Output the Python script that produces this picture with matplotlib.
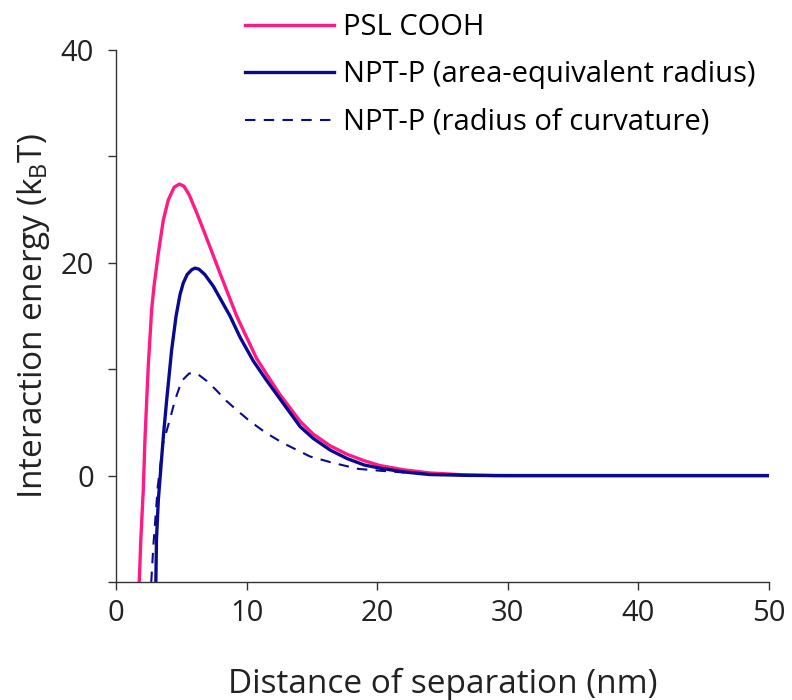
import matplotlib
matplotlib.use("Agg")
import matplotlib.pyplot as plt

# --- data --------------------------------------------------------------
psl_x = [1.78, 1.9, 2.09, 2.22, 2.47, 2.73, 2.91, 3.24, 3.62, 4.0, 4.45,
         4.85, 5.2, 5.6, 6.18, 7.07, 8.0, 9.24, 10.0, 10.77, 11.6, 12.56,
         14.1, 15.1, 16.4, 17.7, 19.0, 20.2, 22.0, 24.0, 26.5, 29.0, 35.0,
         40.0, 50.0]
psl_y = [-10.0, -6.0, -1.3, 3.5, 10.3, 15.6, 17.8, 20.9, 24.0, 25.9, 27.1,
         27.4, 27.2, 26.4, 24.7, 21.9, 18.9, 15.0, 13.0, 11.0, 9.4, 7.6,
         5.1, 3.9, 2.8, 2.0, 1.4, 0.95, 0.55, 0.25, 0.08, 0.0, 0.0,
         0.0, 0.0]

npt_area_x = [3.05, 3.1, 3.24, 3.62, 3.88, 4.26, 4.6, 4.9, 5.15, 5.45, 5.8,
              6.05, 6.35, 6.8, 7.45, 8.73, 9.5, 10.5, 11.5, 12.56, 14.1,
              15.1, 16.4, 17.7, 19.0, 20.2, 22.0, 24.0, 27.0, 30.0, 40.0,
              50.0]
npt_area_y = [-10.0, -6.0, -2.3, 3.6, 7.1, 11.8, 15.0, 17.0, 18.1, 18.9, 19.35,
              19.5, 19.4, 18.9, 17.8, 15.0, 13.0, 10.8, 9.0, 7.2, 4.6,
              3.5, 2.4, 1.6, 1.0, 0.7, 0.35, 0.1, 0.02, 0.0, 0.0,
              0.0]

npt_curv_x = [2.7, 2.86, 3.2, 3.6, 4.13, 4.52, 5.03, 5.6, 6.2, 6.94, 7.7,
              8.47, 9.4, 10.26, 11.5, 12.8, 14.85, 16.6, 18.55, 20.4, 22.0,
              25.0, 30.0, 40.0, 50.0]
npt_curv_y = [-10.0, -6.6, -1.0, 3.0, 5.3, 7.1, 8.9, 9.6, 9.6, 8.9, 8.0,
              7.0, 6.0, 5.1, 4.0, 3.05, 1.8, 1.2, 0.63, 0.44, 0.3,
              0.1, 0.0, 0.0, 0.0]

labels = ["PSL COOH", "NPT-P (area-equivalent radius)",
          "NPT-P (radius of curvature)"]
x_ticks = [0, 10, 20, 30, 40, 50]
y_ticks = [-10, 0, 10, 20, 30, 40]
y_tick_labels = ["", "0", "", "20", "", "40"]

PINK = "#FF1A85"
NAVY = "#0A0A8E"

plt.rcParams["font.family"] = ["Open Sans", "DejaVu Sans"]
plt.rcParams["mathtext.fontset"] = "custom"
plt.rcParams["mathtext.rm"] = "Open Sans"
plt.rcParams["mathtext.it"] = "Open Sans"

fig = plt.figure(figsize=(7.92, 7.0), dpi=100)
ax = fig.add_axes([116 / 792, 1 - 582 / 700, (769 - 116) / 792, (582 - 50) / 700])

ax.plot(psl_x, psl_y, color=PINK, lw=2.4, label=labels[0])
ax.plot(npt_area_x, npt_area_y, color=NAVY, lw=2.4, label=labels[1])
ax.plot(npt_curv_x, npt_curv_y, color=NAVY, lw=1.5, ls=(0, (5, 4)),
        label=labels[2])

ax.set_xlim(0, 50)
ax.set_ylim(-10, 40)
ax.set_xticks(x_ticks)
ax.set_yticks(y_ticks)
ax.set_yticklabels(y_tick_labels)
for s in ("top", "right"):
    ax.spines[s].set_visible(False)
for s in ("left", "bottom"):
    ax.spines[s].set_color("#333333")
    ax.spines[s].set_linewidth(1.0)
ax.tick_params(axis="both", direction="out", length=6, width=1.0,
               color="#333333", labelsize=21, labelcolor="#222222")
ax.tick_params(axis="y", pad=10)
ax.tick_params(axis="x", pad=6)

ax.set_xlabel("Distance of separation (nm)", fontsize=24, color="#222222",
              labelpad=29)
ax.set_ylabel(r"Interaction energy (k$_{\rm B}$T)", fontsize=24,
              color="#222222", labelpad=6)

ax.legend(loc="upper left", bbox_to_anchor=(245 / 792, 1 - 13 / 700),
          bbox_transform=fig.transFigure, frameon=False, fontsize=21,
          handlelength=3.05, handletextpad=0.3, labelspacing=0.63,
          borderpad=0, borderaxespad=0)

fig.savefig("out.png", dpi=100, facecolor="white")
